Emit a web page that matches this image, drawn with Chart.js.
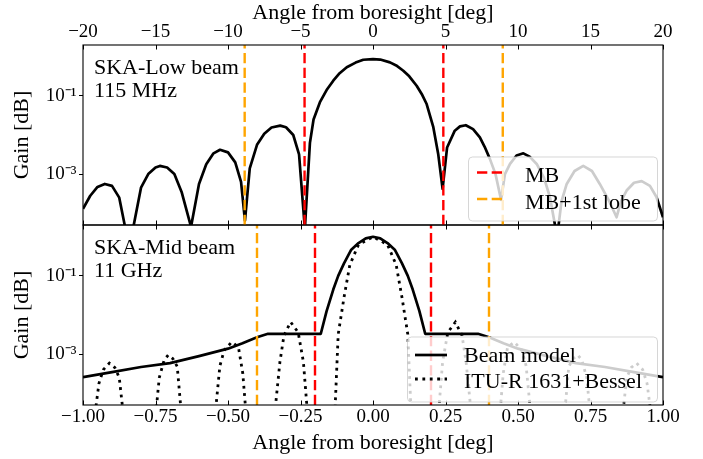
<!DOCTYPE html>
<html><head><meta charset="utf-8">
<script src="https://cdn.jsdelivr.net/npm/chart.js@4.4.1/dist/chart.umd.min.js"></script>
<style>
html,body{margin:0;padding:0;background:#fff;}
#wrap{position:relative;width:703px;height:459px;overflow:hidden;background:#fff;}
canvas{position:absolute;left:0;top:0;}
</style></head><body>
<div id="wrap"><canvas id="cMid" width="703" height="459"></canvas><canvas id="cLow" width="703" height="459"></canvas></div>
<script>
// ---------- data ----------
const lowAngle = [-20,-19.5,-19,-18.5,-18,-17.5,-17.1,-16.8,-16.5,-16,-15.5,-15,-14.7,-14.2,-13.7,-13.2,-12.55,-12,-11.5,-11,-10.55,-10,-9.5,-9.1,-8.83,-8.5,-8,-7.5,-7,-6.4,-6,-5.5,-5.1,-4.7,-4.35,-4.1,-3.66,-3.2,-2.74,-2.3,-1.81,-1.2,-0.67,0,0.5,1.17,1.6,2.09,2.5,3.01,3.4,3.7,4.16,4.5,4.8,5.11,5.64,6,6.4,6.9,7.37,7.7,8.06,8.45,8.83,9.1,9.45,9.9,10.37,10.8,11.29,11.8,12.2,12.7,13,13.36,13.9,14.5,15.1,15.64,16.3,16.8,17.1,17.49,18,18.53,19.1,19.55,20];
const lowGain = [1.3e-4,2.8e-4,4.7e-4,5.6e-4,5.0e-4,2.5e-4,4.5e-5,6e-6,5.0e-5,4.5e-4,1.0e-3,1.48e-3,1.62e-3,1.48e-3,1.0e-3,3.5e-4,4.5e-5,5.6e-4,1.78e-3,3.4e-3,4.2e-3,3.6e-3,2.0e-3,6.3e-4,6.5e-5,1.41e-3,5.6e-3,1.07e-2,1.55e-2,1.74e-2,1.58e-2,1.0e-2,3.2e-3,4.0e-5,6.3e-3,2.5e-2,6.9e-2,0.141,0.245,0.38,0.54,0.71,0.84,0.87,0.85,0.72,0.60,0.44,0.316,0.182,0.105,0.062,0.0158,3.2e-3,4.2e-4,4.8e-3,1.29e-2,1.66e-2,1.78e-2,1.41e-2,8.7e-3,5.0e-3,2.45e-3,1.0e-3,2.2e-4,1.0e-3,1.82e-3,3.0e-3,3.4e-3,2.8e-3,1.82e-3,7.9e-4,2.6e-4,2.5e-5,2.0e-4,5.6e-4,1.2e-3,1.62e-3,1.2e-3,5.6e-4,2.0e-4,7.9e-5,2.0e-4,3.8e-4,6.0e-4,6.6e-4,5.0e-4,2.6e-4,7.9e-5];

const midAngle = [-1,-0.9,-0.8,-0.7,-0.6,-0.5,-0.45,-0.4,-0.362,-0.18,-0.16,-0.137,-0.12,-0.1,-0.075,-0.05,-0.025,0,0.025,0.05,0.075,0.1,0.12,0.137,0.16,0.18,0.362,0.4,0.45,0.5,0.6,0.7,0.8,0.9,1];
const midModelGain = [2.57e-4,3.47e-4,4.68e-4,5.9e-4,8.9e-4,1.38e-3,1.9e-3,2.69e-3,3.31e-3,3.31e-3,1.26e-2,4.47e-2,0.1,0.209,0.468,0.692,0.912,1.0,0.912,0.692,0.468,0.209,0.1,4.47e-2,1.26e-2,3.31e-3,3.31e-3,2.69e-3,1.9e-3,1.38e-3,8.9e-4,5.9e-4,4.68e-4,3.47e-4,2.57e-4];

const ituAngle = [-1,-0.96,-0.945,-0.93,-0.909,-0.89,-0.875,-0.86,-0.81,-0.75,-0.737,-0.72,-0.706,-0.69,-0.675,-0.66,-0.6,-0.545,-0.528,-0.513,-0.487,-0.464,-0.449,-0.437,-0.385,-0.34,-0.321,-0.307,-0.284,-0.258,-0.24,-0.225,-0.18,-0.132,-0.12,-0.1,-0.08,-0.05,0,
  0.05,0.08,0.1,0.12,0.132,0.18,0.225,0.24,0.258,0.284,0.307,0.321,0.34,0.385,0.437,0.449,0.464,0.487,0.513,0.528,0.545,0.6,0.66,0.675,0.69,0.706,0.72,0.737,0.75,0.81,0.86,0.875,0.89,0.909,0.93,0.945,0.96,1];
const ituGain = [1e-6,2.5e-5,1.78e-4,4.0e-4,5.9e-4,4.5e-4,2.5e-4,2.5e-5,1e-7,2.5e-5,2.5e-4,7.1e-4,9.5e-4,7.6e-4,4.8e-4,2.5e-5,1e-7,2.5e-5,5.0e-4,1.26e-3,2.04e-3,1.51e-3,3.2e-4,2.5e-5,1e-7,2.5e-5,6.3e-4,3.0e-3,6.6e-3,3.6e-3,6.3e-4,2.5e-5,1e-7,2.5e-5,3.2e-3,2.8e-2,0.19,0.63,1.0,
  0.63,0.19,2.8e-2,3.2e-3,2.5e-5,1e-7,2.5e-5,6.3e-4,3.6e-3,6.6e-3,3.0e-3,6.3e-4,2.5e-5,1e-7,2.5e-5,3.2e-4,1.51e-3,2.04e-3,1.26e-3,5.0e-4,2.5e-5,1e-7,2.5e-5,4.8e-4,7.6e-4,9.5e-4,7.1e-4,2.5e-4,2.5e-5,1e-7,2.5e-5,2.5e-4,4.5e-4,5.9e-4,4.0e-4,1.78e-4,2.5e-5,1e-6];

const lowMB = [-4.72, 4.85];
const lowMB1 = [-8.85, 8.95];
const midMB = [-0.2, 0.2];
const midMB1 = [-0.4, 0.4];

const lowTicks = [-20,-15,-10,-5,0,5,10,15,20];
const midTicks = [-1,-0.75,-0.5,-0.25,0,0.25,0.5,0.75,1];
const yTickVals = [1e-3, 1e-1];
const yTickLabels = ['10\u207B\u00B3', '10\u207B\u00B9'];
const xTitle = 'Angle from boresight [deg]';
const yTitle = 'Gain [dB]';

// ---------- styling ----------
const FONT = '"Liberation Serif", "Times New Roman", serif';
Chart.defaults.font.family = FONT;
Chart.defaults.color = '#000';
const Y_MIN = 5e-5, Y_MAX = 2;
const RED = '#ff0000', ORANGE = '#ffa500';
const DASH = [10.3, 4.4];
const DOT = [2.8, 4.6];

function minusFmt(v, dec) {
  const s = Math.abs(v).toFixed(dec);
  return (v < -1e-9 ? '\u2212' : '') + s;
}
function pts(xs, ys) { return xs.map((x, i) => ({x: x, y: ys[i]})); }
function vlineSets(xs, color) {
  return xs.map(x => ({data: [{x: x, y: Y_MIN}, {x: x, y: Y_MAX}], borderColor: color, borderWidth: 2.4,
    borderDash: DASH, pointRadius: 0, tension: 0, clip: 0, order: 0, borderCapStyle: 'butt'}));
}

function decor(opt) {
  return {
    id: 'decor',
    afterDatasetsDraw(chart) {
      const ctx = chart.ctx, a = chart.chartArea, xs = chart.scales.x;
      ctx.save();
      ctx.setLineDash([]);
      ctx.strokeStyle = '#000';
      ctx.lineWidth = 1.1;
      ctx.strokeRect(a.left, a.top, a.right - a.left, a.bottom - a.top);
      ctx.lineWidth = 1;
      xs.ticks.forEach(t => {
        const p = Math.round(xs.getPixelForValue(t.value)) + 0.5;
        ctx.beginPath();
        ctx.moveTo(p, a.top); ctx.lineTo(p, a.top + 4.5);
        ctx.moveTo(p, a.bottom); ctx.lineTo(p, a.bottom - 4.5);
        ctx.stroke();
      });
      // annotation
      ctx.fillStyle = '#000';
      ctx.font = '22px ' + FONT;
      ctx.textBaseline = 'alphabetic';
      ctx.textAlign = 'left';
      ctx.fillText(opt.note[0], 94, a.top + 28.5);
      ctx.fillText(opt.note[1], 94, a.top + 52);
      // legend
      const L = opt.legend;
      const r = 4;
      ctx.beginPath();
      ctx.moveTo(L.x + r, L.y);
      ctx.arcTo(L.x + L.w, L.y, L.x + L.w, L.y + L.h, r);
      ctx.arcTo(L.x + L.w, L.y + L.h, L.x, L.y + L.h, r);
      ctx.arcTo(L.x, L.y + L.h, L.x, L.y, r);
      ctx.arcTo(L.x, L.y, L.x + L.w, L.y, r);
      ctx.closePath();
      ctx.fillStyle = 'rgba(255,255,255,0.8)';
      ctx.fill();
      ctx.strokeStyle = 'rgba(204,204,204,0.8)';
      ctx.lineWidth = 1;
      ctx.stroke();
      L.items.forEach(it => {
        ctx.beginPath();
        ctx.setLineDash(it.dash);
        ctx.strokeStyle = it.color;
        ctx.lineWidth = it.width;
        ctx.lineCap = 'butt';
        ctx.moveTo(L.hx0, it.hy); ctx.lineTo(L.hx1, it.hy);
        ctx.stroke();
        ctx.setLineDash([]);
        ctx.fillStyle = '#000';
        ctx.font = '22px ' + FONT;
        ctx.fillText(it.text, L.tx, it.ty);
      });
      ctx.restore();
    }
  };
}

function scalesFor(xPos, xMin, xMax, ticks, dec, xHeight, tickPad, titlePad) {
  return {
    x: {type: 'linear', position: xPos, min: xMin, max: xMax,
      afterBuildTicks: s => { s.ticks = ticks.map(v => ({value: v})); },
      ticks: {callback: v => minusFmt(v, dec), font: {size: 19}, padding: tickPad, maxRotation: 0, autoSkip: false},
      grid: {display: false, drawTicks: false}, border: {display: false},
      title: {display: true, text: xTitle, font: {size: 22}, padding: titlePad},
      afterFit: s => { s.height = xHeight; }},
    y: {type: 'logarithmic', position: 'left', min: Y_MIN, max: Y_MAX,
      afterBuildTicks: s => { s.ticks = yTickVals.map(v => ({value: v})); },
      ticks: {callback: (v) => yTickLabels[yTickVals.findIndex(t => Math.abs(Math.log10(t) - Math.log10(v)) < 1e-6)], font: {size: 19}, padding: 2.5, autoSkip: false},
      grid: {display: true, drawOnChartArea: false, drawTicks: true, tickLength: 4, color: '#000', lineWidth: 1},
      border: {display: false},
      title: {display: true, text: yTitle, font: {size: 22}, padding: {top: 9.5, bottom: 0}},
      afterFit: s => { s.width = 83; }}
  };
}

const common = {responsive: false, animation: false, devicePixelRatio: 1, events: [],
  plugins: {legend: {display: false}, tooltip: {enabled: false}}};

new Chart(document.getElementById('cLow'), {
  type: 'line',
  data: {datasets: [
    ...vlineSets(lowMB, RED), ...vlineSets(lowMB1, ORANGE),
    {data: pts(lowAngle, lowGain), borderColor: '#000', borderWidth: 2.7, pointRadius: 0, tension: 0, clip: 0, order: 2, borderJoinStyle: 'round'}
  ]},
  options: Object.assign({}, common, {
    layout: {padding: {left: 0, right: 40, top: 0, bottom: 234}},
    scales: scalesFor('top', -20, 20, lowTicks, 0, 45, 1.1, {top: 0, bottom: 0})
  }),
  plugins: [decor({
    note: ['SKA-Low beam', '115 MHz'],
    legend: {x: 468.5, y: 157, w: 189, h: 64, hx0: 477, hx1: 505, tx: 525, items: [
      {text: 'MB', color: RED, dash: DASH, width: 2.4, hy: 172.5, ty: 181.5},
      {text: 'MB+1st lobe', color: ORANGE, dash: DASH, width: 2.4, hy: 199, ty: 209}
    ]}
  })]
});

new Chart(document.getElementById('cMid'), {
  type: 'line',
  data: {datasets: [
    ...vlineSets(midMB, RED), ...vlineSets(midMB1, ORANGE),
    {data: pts(midAngle, midModelGain), borderColor: '#000', borderWidth: 2.7, pointRadius: 0, tension: 0, clip: 0, order: 2, borderJoinStyle: 'round'},
    {data: pts(ituAngle, ituGain), borderColor: '#000', borderWidth: 2.8, borderDash: DOT, borderCapStyle: 'butt', pointRadius: 0, tension: 0, clip: 0, order: 3}
  ]},
  options: Object.assign({}, common, {
    layout: {padding: {left: 0, right: 40, top: 225, bottom: 0}},
    scales: scalesFor('bottom', -1, 1, midTicks, 2, 54, 1.1, {top: 0, bottom: 3})
  }),
  plugins: [decor({
    note: ['SKA-Mid beam', '11 GHz'],
    legend: {x: 407.5, y: 337, w: 250, h: 65, hx0: 415, hx1: 447, tx: 464, items: [
      {text: 'Beam model', color: '#000', dash: [], width: 2.7, hy: 355, ty: 362},
      {text: 'ITU-R 1631+Bessel', color: '#000', dash: DOT, width: 2.8, hy: 379, ty: 388}
    ]}
  })]
});
</script>
</body></html>
